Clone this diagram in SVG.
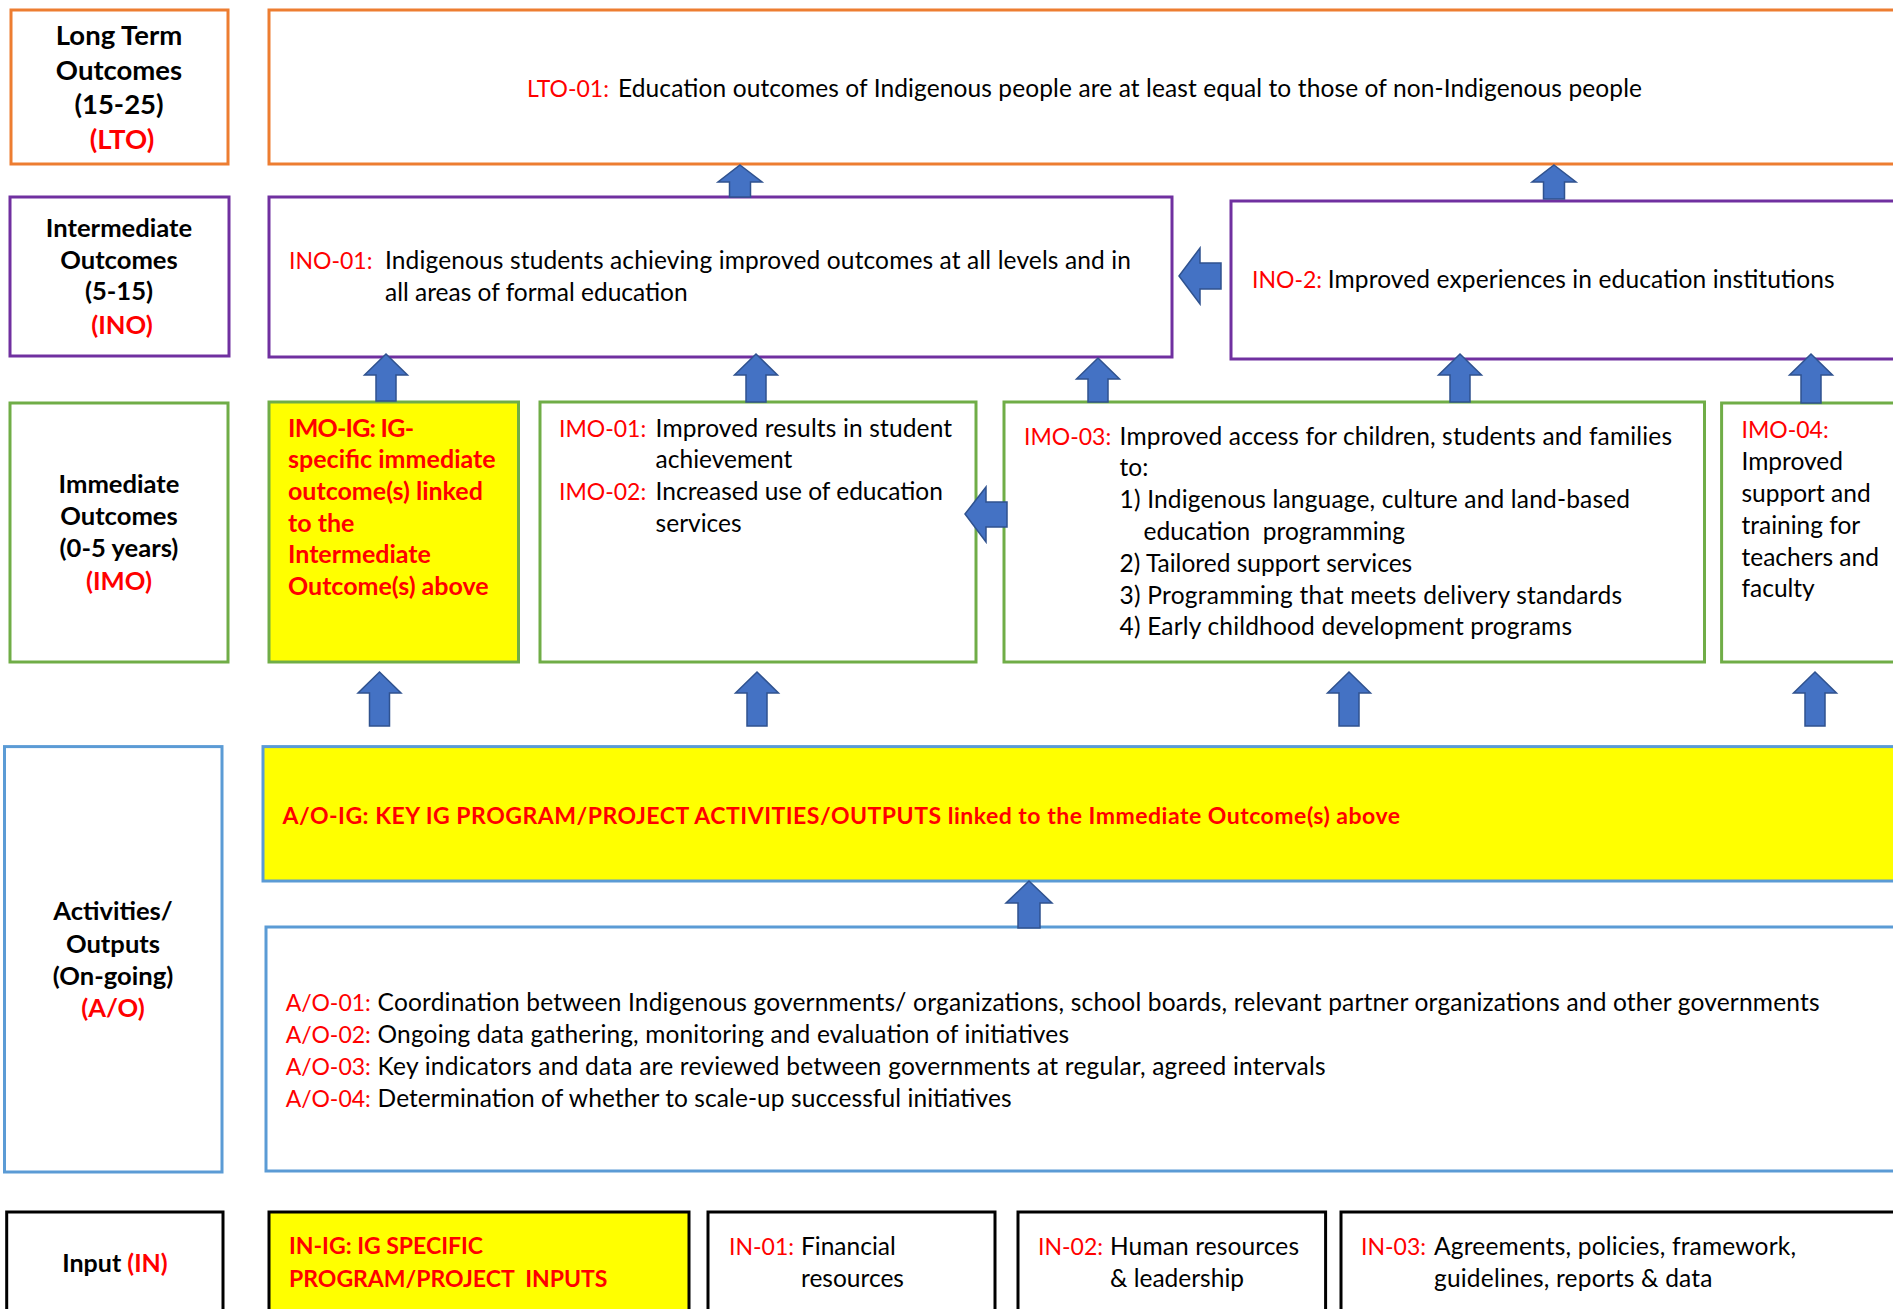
<svg xmlns="http://www.w3.org/2000/svg" width="1893" height="1309" viewBox="0 0 1893 1309">
<style>
text{font-family:Lato,"Open Sans","Liberation Sans",sans-serif;fill:#000}
.lb{font-weight:bold;font-size:25.6px;text-anchor:middle}
.lb1{font-weight:bold;font-size:27.5px;text-anchor:middle}
.lbi{font-weight:bold;font-size:25px;text-anchor:middle}
.t{font-size:24.5px}
.t.red{font-size:23px}
.bold{font-weight:bold;font-size:23px}
.boldl{font-weight:bold;font-size:25px}
.red{fill:#FF0000}
.box{fill:#fff;stroke-width:3}
.or{stroke:#ED7D31}
.pu{stroke:#7030A0}
.gr{stroke:#70AD47}
.bl{stroke:#5B9BD5}
.bk{stroke:#000}
.yel{fill:#FFFF00}
.arr{fill:#4472C4;stroke:#2F528F;stroke-width:1.5;stroke-linejoin:miter}
</style>
<rect width="1893" height="1309" fill="#fff"/>

<g id="lto-label">
<rect class="box or" x="11" y="10" width="217" height="154"/>
<text class="lb1" x="119" y="45">Long Term</text>
<text class="lb1" x="119" y="80">Outcomes</text>
<text class="lb1" x="119" y="114">(15-25)</text>
<text class="lb1 red" x="122" y="149">(LTO)</text>
</g>
<g id="lto-01">
<rect class="box or" x="269" y="10" width="1640" height="154"/>
<text class="t red" x="527" y="97">LTO-01:</text>
<text class="t" x="618" y="97" textLength="1024">Education outcomes of Indigenous people are at least equal to those of non-Indigenous people</text>
</g>

<g id="ino-label">
<rect class="box pu" x="10" y="197" width="219" height="159"/>
<text class="lb" x="119" y="237">Intermediate</text>
<text class="lb" x="119" y="269">Outcomes</text>
<text class="lb" x="119" y="300">(5-15)</text>
<text class="lb red" x="122" y="334">(INO)</text>
</g>
<g id="ino-01">
<rect class="box pu" x="269" y="197" width="903" height="160"/>
<text class="t red" x="289" y="269">INO-01:</text>
<text class="t" x="385" y="269" textLength="746">Indigenous students achieving improved outcomes at all levels and in</text>
<text class="t" x="385" y="301">all areas of formal education</text>
</g>
<g id="ino-2">
<rect class="box pu" x="1231" y="201" width="680" height="158"/>
<text class="t red" x="1252" y="288">INO-2:</text>
<text class="t" x="1327.7" y="288" textLength="507">Improved experiences in education institutions</text>
</g>

<g id="imo-label">
<rect class="box gr" x="10" y="403" width="218" height="259"/>
<text class="lb" x="119" y="493">Immediate</text>
<text class="lb" x="119" y="525">Outcomes</text>
<text class="lb" x="119" y="557">(0-5 years)</text>
<text class="lb red" x="119" y="590">(IMO)</text>
</g>
<g id="imo-ig">
<rect class="box gr yel" x="269" y="402" width="249.5" height="260"/>
<text class="boldl red" x="288" y="437" textLength="126">IMO-IG: IG-</text>
<text class="boldl red" x="288" y="468" textLength="207.6">specific immediate</text>
<text class="boldl red" x="288" y="500">outcome(s) linked</text>
<text class="boldl red" x="288" y="532">to the</text>
<text class="boldl red" x="288" y="563">Intermediate</text>
<text class="boldl red" x="288" y="595">Outcome(s) above</text>
</g>
<g id="imo-01-02">
<rect class="box gr" x="540" y="402" width="436" height="260"/>
<text class="t red" x="559" y="437">IMO-01:</text>
<text class="t" x="655.6" y="437" textLength="296.5">Improved results in student</text>
<text class="t" x="655.6" y="468">achievement</text>
<text class="t red" x="559" y="500">IMO-02:</text>
<text class="t" x="655.6" y="500">Increased use of education</text>
<text class="t" x="655.6" y="532">services</text>
</g>
<g id="imo-03">
<rect class="box gr" x="1004" y="402" width="700.5" height="260"/>
<text class="t red" x="1024" y="444.5">IMO-03:</text>
<text class="t" x="1119.6" y="444.5" textLength="552.4">Improved access for children, students and families</text>
<text class="t" x="1119.6" y="476.3">to:</text>
<text class="t" x="1119.6" y="508" textLength="510.4">1) Indigenous language, culture and land-based</text>
<text class="t" x="1143.5" y="540" xml:space="preserve">education  programming</text>
<text class="t" x="1119.6" y="571.7">2) Tailored support services</text>
<text class="t" x="1119.6" y="603.5" textLength="502.4">3) Programming that meets delivery standards</text>
<text class="t" x="1119.6" y="635.3" textLength="452.4">4) Early childhood development programs</text>
</g>
<g id="imo-04">
<rect class="box gr" x="1721.6" y="403" width="190" height="259"/>
<text class="t red" x="1741.5" y="438">IMO-04:</text>
<text class="t" x="1741.5" y="470">Improved</text>
<text class="t" x="1741.5" y="502">support and</text>
<text class="t" x="1741.5" y="534">training for</text>
<text class="t" x="1741.5" y="565.5">teachers and</text>
<text class="t" x="1741.5" y="597">faculty</text>
</g>

<g id="ao-label">
<rect class="box bl" x="4.5" y="746.6" width="217.5" height="425.4"/>
<text class="lb" x="113" y="920">Activities/</text>
<text class="lb" x="113" y="952.5">Outputs</text>
<text class="lb" x="113" y="984.7">(On-going)</text>
<text class="lb red" x="113" y="1016.5">(A/O)</text>
</g>
<g id="ao-ig">
<rect class="box bl yel" x="263" y="746.6" width="1650" height="134.4"/>
<text class="bold red" x="282.5" y="823.5" textLength="1117.5">A/O-IG: KEY IG PROGRAM/PROJECT ACTIVITIES/OUTPUTS linked to the Immediate Outcome(s) above</text>
</g>
<g id="ao-list">
<rect class="box bl" x="266" y="927" width="1647" height="244"/>
<text class="t red" x="285.7" y="1010.7">A/O-01:</text>
<text class="t" x="377.6" y="1010.7" textLength="1441.9">Coordination between Indigenous governments/ organizations, school boards, relevant partner organizations and other governments</text>
<text class="t red" x="285.7" y="1042.5">A/O-02:</text>
<text class="t" x="377.6" y="1042.5" textLength="691.4">Ongoing data gathering, monitoring and evaluation of initiatives</text>
<text class="t red" x="285.7" y="1074.8">A/O-03:</text>
<text class="t" x="377.6" y="1074.8" textLength="948">Key indicators and data are reviewed between governments at regular, agreed intervals</text>
<text class="t red" x="285.7" y="1106.7">A/O-04:</text>
<text class="t" x="377.6" y="1106.7" textLength="633.9">Determination of whether to scale-up successful initiatives</text>
</g>

<g id="in-label">
<rect class="box bk" x="6.7" y="1212" width="216.3" height="110"/>
<text class="lbi" x="115" y="1272">Input <tspan class="red">(IN)</tspan></text>
</g>
<g id="in-ig">
<rect class="box bk yel" x="269" y="1212" width="420" height="110"/>
<text class="bold red" x="289" y="1254">IN-IG: IG SPECIFIC</text>
<text class="bold red" x="289" y="1287" xml:space="preserve">PROGRAM/PROJECT  INPUTS</text>
</g>
<g id="in-01">
<rect class="box bk" x="708" y="1212" width="287" height="110"/>
<text class="t red" x="729" y="1255">IN-01:</text>
<text class="t" x="801" y="1255">Financial</text>
<text class="t" x="801" y="1287">resources</text>
</g>
<g id="in-02">
<rect class="box bk" x="1018" y="1212" width="307.6" height="110"/>
<text class="t red" x="1038" y="1255">IN-02:</text>
<text class="t" x="1110" y="1255" textLength="189">Human resources</text>
<text class="t" x="1110" y="1287">&amp; leadership</text>
</g>
<g id="in-03">
<rect class="box bk" x="1341" y="1212" width="570" height="110"/>
<text class="t red" x="1361" y="1255">IN-03:</text>
<text class="t" x="1434" y="1255" textLength="362">Agreements, policies, framework,</text>
<text class="t" x="1434" y="1287" textLength="278.5">guidelines, reports &amp; data</text>
</g>

<g id="connectors">
<path class="arr" d="M740,165 L762,182 L750.5,182 L750.5,197 L729.5,197 L729.5,182 L718,182 Z"/>
<path class="arr" d="M1554,165 L1576,182 L1564.5,182 L1564.5,199 L1543.5,199 L1543.5,182 L1532,182 Z"/>
<path class="arr" d="M1179,276 L1200,248 L1200,263 L1221,263 L1221,289 L1200,289 L1200,304 Z"/>
<path class="arr" d="M386,354 L407.5,375 L396,375 L396,401 L376,401 L376,375 L364.5,375 Z"/>
<path class="arr" d="M756,354 L777.5,375 L766,375 L766,402 L746,402 L746,375 L734.5,375 Z"/>
<path class="arr" d="M1098,358 L1119.5,379 L1108,379 L1108,402 L1088,402 L1088,379 L1076.5,379 Z"/>
<path class="arr" d="M1460,354 L1481.5,375 L1470,375 L1470,402 L1450,402 L1450,375 L1438.5,375 Z"/>
<path class="arr" d="M1811,354 L1832.5,375 L1821,375 L1821,403 L1801,403 L1801,375 L1789.5,375 Z"/>
<path class="arr" d="M965,514 L986,487 L986,502 L1007,502 L1007,527 L986,527 L986,542 Z"/>
<path class="arr" d="M379.5,672 L401,693 L389.5,693 L389.5,726 L369.5,726 L369.5,693 L358,693 Z"/>
<path class="arr" d="M757,672 L778.5,693 L767,693 L767,726 L747,726 L747,693 L735.5,693 Z"/>
<path class="arr" d="M1349,672 L1370.5,693 L1359,693 L1359,726 L1339,726 L1339,693 L1327.5,693 Z"/>
<path class="arr" d="M1815,672 L1836.5,693 L1825,693 L1825,726 L1805,726 L1805,693 L1793.5,693 Z"/>
<path class="arr" d="M1029,881 L1052,903 L1040,903 L1040,928 L1018,928 L1018,903 L1006,903 Z"/>
</g>
</svg>
